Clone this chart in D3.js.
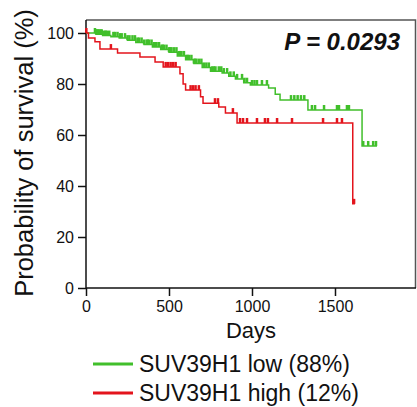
<!DOCTYPE html>
<html>
<head>
<meta charset="utf-8">
<script src="https://cdn.jsdelivr.net/npm/d3@7"></script>
<style>
  body { margin: 0; background: #fff; }
  text { font-family: "Liberation Sans", Arial, sans-serif; fill: #111; }
</style>
</head>
<body>
<div id="chart"></div>
<script>
// Kaplan-Meier steps: [day, survival %]
const lowSteps = [[0,100],[60,99.5],[100,99],[150,98.5],[200,98],[250,97.2],[300,96.3],[350,95.5],[400,94.5],
  [450,93.5],[500,92.5],[550,91],[600,89.5],[650,88],[700,86.5],[750,85],[820,84.3],[860,83],[900,82],
  [950,80.5],[990,79.6],[1100,78.4],[1140,76],[1169,73.7],[1337,69.8],[1663,55.7]];
const lowEnd = 1753;
const lowCensor = [54,60,66,72,80,88,95,110,118,125,140,165,175,190,205,215,235,250,262,280,295,310,320,
  335,350,365,372,380,395,410,418,425,440,455,462,470,485,500,508,515,530,545,560,568,575,590,605,612,
  620,635,650,658,665,680,695,710,725,740,760,770,780,800,815,830,850,870,890,910,940,955,970,1000,1015,
  1030,1060,1090,1235,1255,1275,1295,1315,1361,1380,1434,1512,1524,1572,1584,1670,1700,1730,1747];

const highSteps = [[0,100],[15,98],[54,96.6],[84,93.7],[190,92.2],[325,90.6],[416,88.6],[465,86.7],
  [566,84],[585,80],[600,77.6],[690,75],[705,72.5],[800,71],[840,68.6],[910,64.7],[1607,33]];
const highEnd = 1620;
const highCensor = [2,150,480,495,510,525,540,630,645,660,680,777,795,885,928,946,970,1030,1078,1096,
  1151,1241,1428,1512,1542,1615];

const yTicks = [0, 20, 40, 60, 80, 100];
const xTicks = [0, 500, 1000, 1500];
const legendLabels = ["SUV39H1 low (88%)", "SUV39H1 high (12%)"];
const pLabel = "P = 0.0293";

const green = "#41bf2b", red = "#e3141c";

const W = 417, H = 407;
const m = {left: 86, right: 1, top: 20, bottom: 119};
const svg = d3.select("#chart").append("svg").attr("width", W).attr("height", H);

const x = d3.scaleLinear().domain([0, 1988]).range([m.left, W - m.right]);
const y = d3.scaleLinear().domain([0, 100]).range([288, 33]);

// frame (top/right)
svg.append("path")
  .attr("d", `M${m.left},${m.top}H${W - m.right - 0.5}V288`)
  .attr("fill", "none").attr("stroke", "#555").attr("stroke-width", 1.5);

// axes
const yAxis = svg.append("g").attr("transform", `translate(${m.left},0)`)
  .call(d3.axisLeft(y).tickValues(yTicks).tickSize(8).tickPadding(4));
yAxis.select(".domain").attr("d", `M0,${m.top}V288`);
const xAxis = svg.append("g").attr("transform", "translate(0,288)")
  .call(d3.axisBottom(x).tickValues(xTicks).tickFormat(d3.format("d")).tickSize(8).tickPadding(5));
xAxis.select(".domain").attr("d", `M${m.left},0H${W - m.right}`);
svg.selectAll(".tick text").style("font-size", "16px").attr("fill", "#111");
svg.selectAll(".domain, .tick line").attr("stroke", "#111").attr("stroke-width", 1.5);

// curves
function stepPath(steps, end) {
  const pts = steps.concat([[end, steps[steps.length - 1][1]]]);
  return d3.line().curve(d3.curveStepAfter).x(d => x(d[0])).y(d => y(d[1]))(pts);
}
function survAt(steps, t) {
  let v = 100;
  steps.forEach(s => { if (s[0] <= t) v = s[1]; });
  return v;
}
const series = [
  {steps: lowSteps, end: lowEnd, censor: lowCensor, color: green},
  {steps: highSteps, end: highEnd, censor: highCensor, color: red}
];
series.forEach(s => {
  svg.append("path").attr("d", stepPath(s.steps, s.end))
    .attr("fill", "none").attr("stroke", s.color).attr("stroke-width", 1.5);
  svg.append("g").selectAll("line").data(s.censor).join("line")
    .attr("x1", d => x(d)).attr("x2", d => x(d))
    .attr("y1", d => y(survAt(s.steps, d)))
    .attr("y2", d => y(survAt(s.steps, d)) - 5)
    .attr("stroke", s.color).attr("stroke-width", 2.5);
});

// labels
svg.append("text").attr("x", 400).attr("y", 50).attr("text-anchor", "end")
  .style("font-size", "24px").style("font-weight", "bold").style("font-style", "italic").text(pLabel);
svg.append("text").attr("transform", "translate(33,153) rotate(-90)").attr("text-anchor", "middle")
  .style("font-size", "25.5px").text("Probability of survival (%)");
svg.append("text").attr("x", 251).attr("y", 338).attr("text-anchor", "middle")
  .style("font-size", "22px").text("Days");

const leg = svg.append("g").selectAll("g").data(legendLabels).join("g")
  .attr("transform", (d, i) => `translate(93,${364 + i * 29})`);
leg.append("line").attr("x1", 0).attr("x2", 40)
  .attr("stroke", (d, i) => i ? red : green).attr("stroke-width", 3);
leg.append("text").attr("x", 46).attr("y", 8).style("font-size", "23px").text(d => d);
</script>
</body>
</html>
